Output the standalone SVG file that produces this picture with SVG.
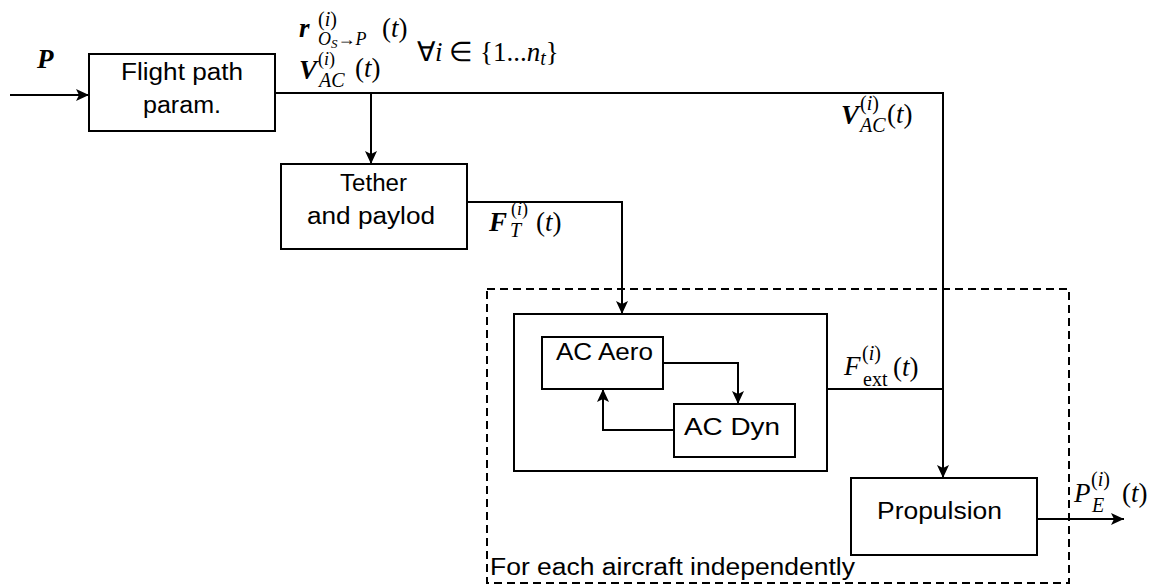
<svg xmlns="http://www.w3.org/2000/svg" width="1153" height="585" viewBox="0 0 1153 585">
<defs>
<marker id="arr" markerUnits="userSpaceOnUse" markerWidth="14" markerHeight="12" refX="13" refY="6" orient="auto">
<path d="M0,0 L13,6 L0,12 L3,6 Z" fill="#000"/>
</marker>
<style>
.box{fill:#fff;stroke:#000;stroke-width:2}
.dash{fill:none;stroke:#000;stroke-width:2;stroke-dasharray:8,5}
.ln{fill:none;stroke:#000;stroke-width:2}
.t{font-family:"Liberation Sans",Arial,sans-serif;font-size:23px;fill:#000}
.m{font-family:"Liberation Serif","Times New Roman",serif;font-size:27px;fill:#000}
.s{font-size:20px}
.s2{font-size:18px}
.ss{font-size:13px}
.bi{font-weight:bold;font-style:italic}
.it{font-style:italic}
</style>
</defs>
<rect width="1153" height="585" fill="#fff"/>

<g id="group-each-aircraft">
<rect class="dash" x="487" y="289" width="582" height="294"/>
<text class="t" x="490" y="575" textLength="365" lengthAdjust="spacingAndGlyphs">For each aircraft independently</text>
</g>

<g id="node-flight-path">
<rect class="box" x="89" y="54" width="186" height="77"/>
<text class="t" x="121" y="80" textLength="122" lengthAdjust="spacingAndGlyphs">Flight path</text>
<text class="t" x="143" y="113" textLength="78" lengthAdjust="spacingAndGlyphs">param.</text>
</g>

<g id="node-tether">
<rect class="box" x="281" y="164" width="186" height="85"/>
<text class="t" x="340" y="191" textLength="67" lengthAdjust="spacingAndGlyphs">Tether</text>
<text class="t" x="307" y="224" textLength="128" lengthAdjust="spacingAndGlyphs">and paylod</text>
</g>

<g id="node-ac-container">
<rect class="box" x="514" y="314" width="313" height="157"/>
</g>

<g id="node-ac-aero">
<rect class="box" x="542" y="337" width="121" height="52"/>
<text class="t" x="556" y="360" textLength="97" lengthAdjust="spacingAndGlyphs">AC Aero</text>
</g>

<g id="node-ac-dyn">
<rect class="box" x="674" y="404" width="121" height="53"/>
<text class="t" x="684" y="435" textLength="96" lengthAdjust="spacingAndGlyphs">AC Dyn</text>
</g>

<g id="node-propulsion">
<rect class="box" x="851" y="478" width="186" height="77"/>
<text class="t" x="877" y="519" textLength="125" lengthAdjust="spacingAndGlyphs">Propulsion</text>
</g>

<g id="connectors">
<path class="ln" d="M10,95 H89" marker-end="url(#arr)"/>
<path class="ln" d="M275,93 H943 V478" marker-end="url(#arr)"/>
<path class="ln" d="M371,93 V164" marker-end="url(#arr)"/>
<path class="ln" d="M467,202 H622 V314" marker-end="url(#arr)"/>
<path class="ln" d="M663,363 H738 V404" marker-end="url(#arr)"/>
<path class="ln" d="M674,430 H603 V389" marker-end="url(#arr)"/>
<path class="ln" d="M827,389 H943"/>
<path class="ln" d="M1037,519 H1124" marker-end="url(#arr)"/>
</g>

<g id="labels">
<text class="m bi" x="37" y="68">P</text>

<text class="m"><tspan class="bi" x="299" y="37">r</tspan><tspan class="s" x="318" y="26">(<tspan class="it">i</tspan>)</tspan><tspan class="s2 it" x="318" y="45">O</tspan><tspan class="ss it" y="48">S</tspan><tspan class="s2" y="45">→</tspan><tspan class="s2 it">P</tspan><tspan x="382" y="37">(<tspan class="it">t</tspan>)</tspan></text>

<text class="m" x="417" y="61">∀<tspan class="it">i</tspan> ∈ {1...<tspan class="it">n</tspan><tspan class="s it" dy="4">t</tspan><tspan dy="-4">}</tspan></text>

<text class="m"><tspan class="bi" x="299" y="79">V</tspan><tspan class="s2" x="318" y="65">(<tspan class="it">i</tspan>)</tspan><tspan class="s it" x="319" y="87">AC</tspan><tspan x="355" y="77">(<tspan class="it">t</tspan>)</tspan></text>

<text class="m"><tspan class="bi" x="841" y="124">V</tspan><tspan class="s" x="860" y="110">(<tspan class="it">i</tspan>)</tspan><tspan class="s it" x="860" y="132">AC</tspan><tspan x="887" y="123">(<tspan class="it">t</tspan>)</tspan></text>

<text class="m"><tspan class="bi" x="489" y="231">F</tspan><tspan class="s2" x="511" y="215">(<tspan class="it">i</tspan>)</tspan><tspan class="s it" x="510" y="237">T</tspan><tspan x="536" y="231">(<tspan class="it">t</tspan>)</tspan></text>

<text class="m"><tspan class="it" x="844" y="375">F</tspan><tspan class="s" x="862" y="360">(<tspan class="it">i</tspan>)</tspan><tspan class="s" x="863" y="386">ext</tspan><tspan x="893" y="376">(<tspan class="it">t</tspan>)</tspan></text>

<text class="m"><tspan class="it" x="1074" y="502">P</tspan><tspan class="s" x="1091" y="486">(<tspan class="it">i</tspan>)</tspan><tspan class="s it" x="1092" y="512">E</tspan><tspan x="1122" y="502">(<tspan class="it">t</tspan>)</tspan></text>
</g>
</svg>
